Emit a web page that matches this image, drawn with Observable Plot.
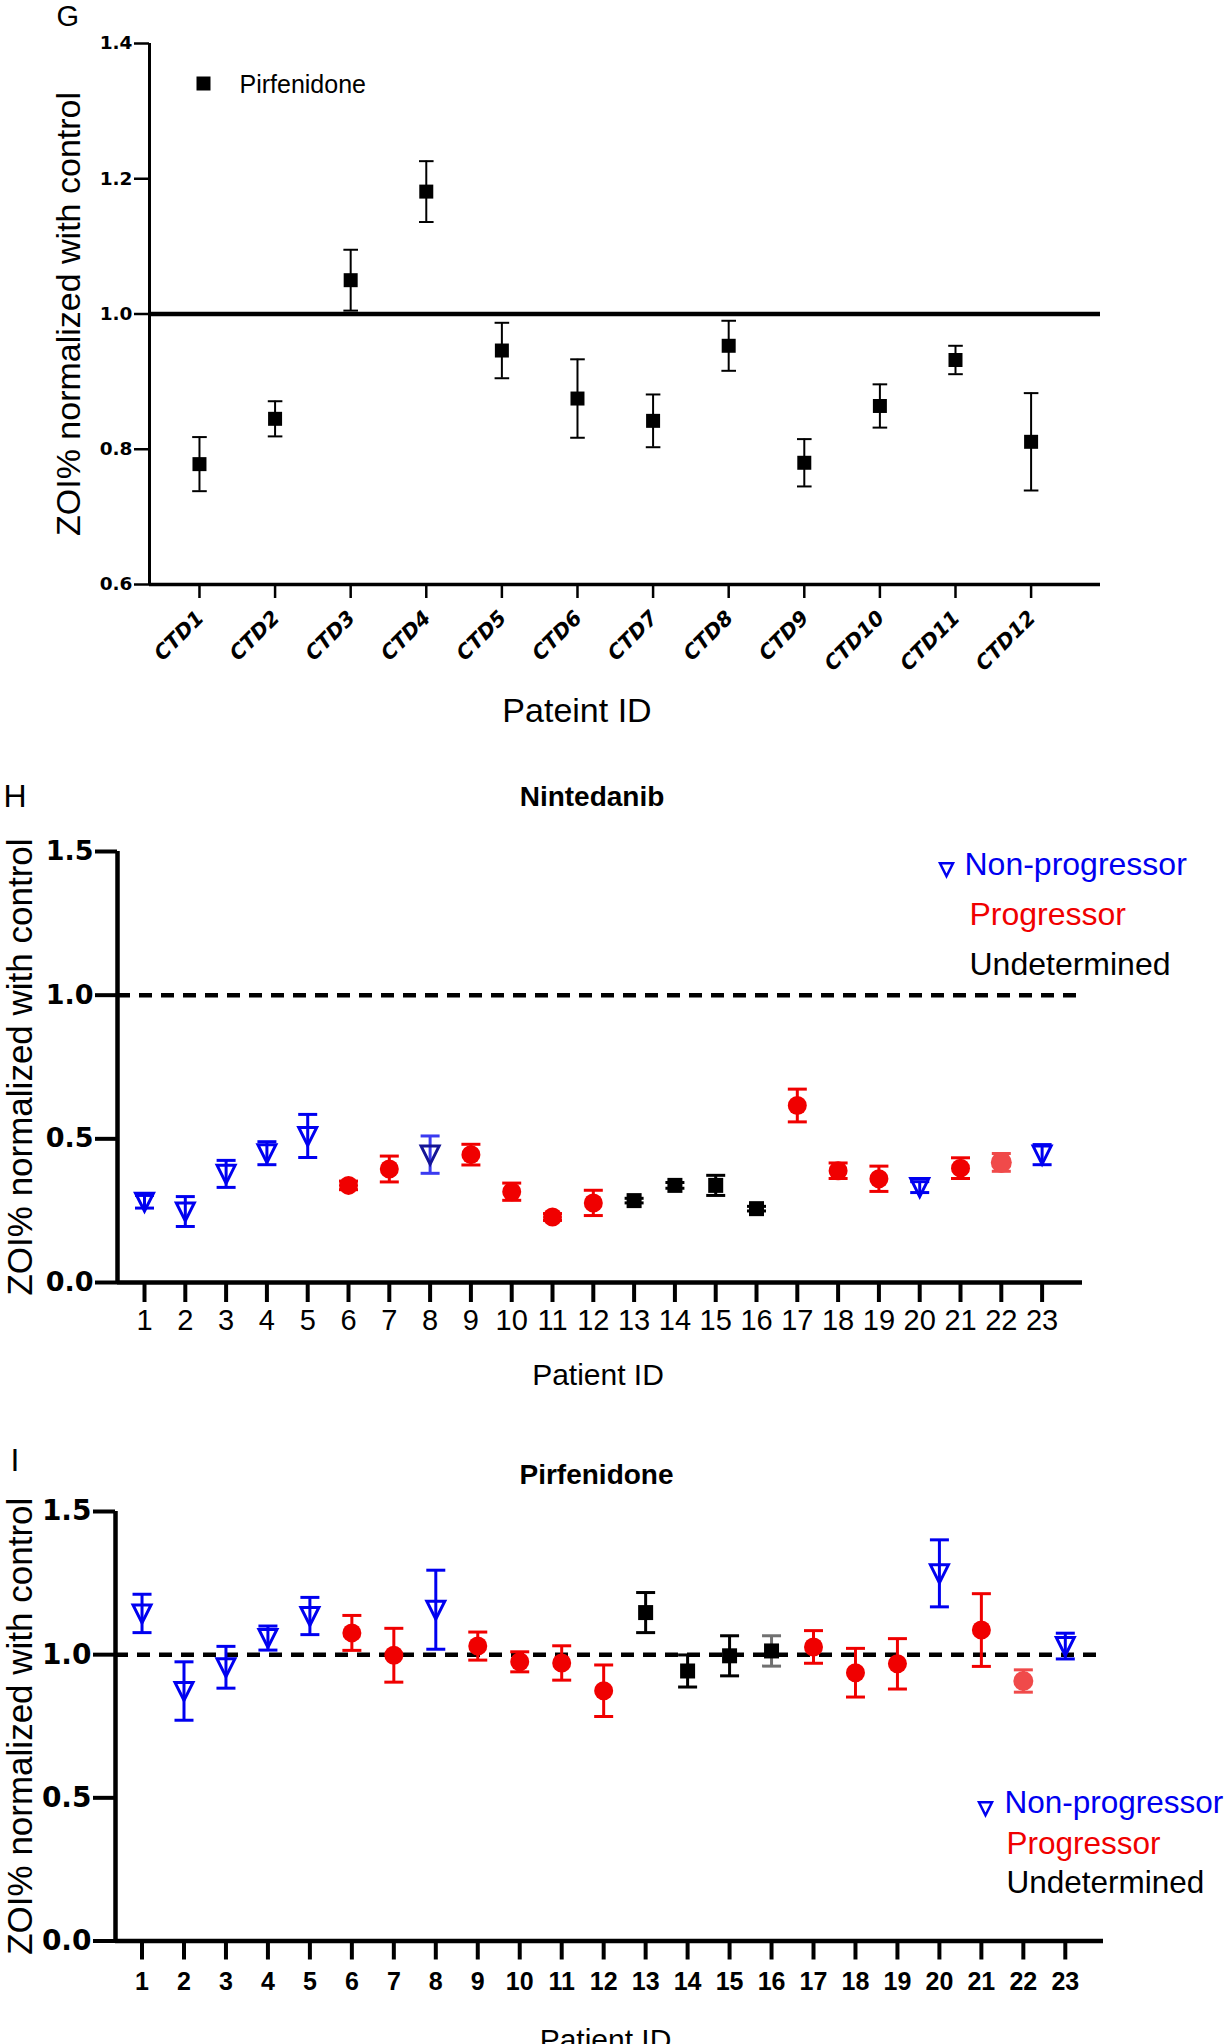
<!DOCTYPE html>
<html>
<head>
<meta charset="utf-8">
<script src="https://cdn.jsdelivr.net/npm/d3@7"></script>
<script src="https://cdn.jsdelivr.net/npm/@observablehq/plot@0.6"></script>
<style>
  body { margin: 0; background: #fff; }
  #wrap { position: relative; width: 1231px; height: 2044px; overflow: hidden; background: #fff; }
  #wrap svg { display: block; position: absolute; left: 0; overflow: visible; }
</style>
</head>
<body>
<div id="wrap"></div>
<script>
// ---------- Panel G data ----------
const gLabels = ["CTD1","CTD2","CTD3","CTD4","CTD5","CTD6","CTD7","CTD8","CTD9","CTD10","CTD11","CTD12"];
const gIndex = [1,2,3,4,5,6,7,8,9,10,11,12];
const gMean = [0.778,0.845,1.050,1.181,0.946,0.875,0.842,0.953,0.780,0.864,0.932,0.811];
const gErr  = [0.040,0.026,0.045,0.045,0.041,0.058,0.039,0.037,0.035,0.032,0.021,0.072];
const gTicks = [0.6,0.8,1.0,1.2,1.4];

// ---------- Panels H and I data ----------
const patientIds = [1,2,3,4,5,6,7,8,9,10,11,12,13,14,15,16,17,18,19,20,21,22,23];
const statusCodes = ["N","N","N","N","N","P","P","N","P","P","P","P","U","U","U","U","P","P","P","N","P","P","N"];
const hMean = [0.281,0.247,0.378,0.450,0.510,0.338,0.395,0.445,0.445,0.316,0.228,0.277,0.285,0.338,0.338,0.257,0.616,0.389,0.361,0.332,0.398,0.418,0.445];
const hErr  = [0.022,0.052,0.047,0.040,0.075,0.015,0.045,0.065,0.036,0.030,0.012,0.044,0.008,0.010,0.035,0.008,0.057,0.027,0.044,0.019,0.036,0.031,0.035];
const iMean = [1.144,0.873,0.956,1.058,1.135,1.076,0.998,1.157,1.030,0.975,0.971,0.874,1.147,0.943,0.996,1.013,1.027,0.937,0.968,1.284,1.086,0.908,1.030];
const iErr  = [0.067,0.102,0.073,0.042,0.065,0.061,0.094,0.138,0.049,0.035,0.060,0.090,0.070,0.056,0.070,0.053,0.057,0.085,0.088,0.117,0.127,0.039,0.045];
const hiTicks = [0.0,0.5,1.0,1.5];
const legendLabels = ["Non-progressor","Progressor","Undetermined"];

// ---------- styling ----------
const FONT = "'Liberation Sans', Arial, Helvetica, sans-serif";
const TICKFONT = "'DejaVu Sans', Verdana, sans-serif";
const BLUE = "#0000f0", RED = "#f00000", BLACK = "#000000";
const statusColor = {N: BLUE, P: RED, U: BLACK};
const legendColors = [BLUE, RED, BLACK];
// small per-point shade differences seen in the figure (style only)
const shade = {
  H: {8: {mark: "#141496", bar: "#3a3af0"}, 22: {mark: "#f04a4a", bar: "#f04a4a", r: 10.5}},
  I: {16: {mark: BLACK, bar: "#707070"}, 22: {mark: "#f04a4a", bar: "#f04a4a", r: 10}}
};

const capSym = {draw(ctx, size) { const r = Math.sqrt(size / Math.PI); ctx.moveTo(-r, 0); ctx.lineTo(r, 0); }};
const sqSym  = {draw(ctx, size) { const r = Math.sqrt(size / Math.PI); ctx.rect(-r, -r, 2 * r, 2 * r); }};
const triSym = {draw(ctx, size) { const r = Math.sqrt(size / Math.PI); ctx.moveTo(-r, -0.95 * r); ctx.lineTo(r, -0.95 * r); ctx.lineTo(0, 1.05 * r); ctx.closePath(); }};

const wrap = document.getElementById("wrap");
function place(svg, top) { svg.style.top = top + "px"; wrap.appendChild(svg); }
function label(str, opts) {
  return Plot.text([str], {text: d => d, textAnchor: "middle", lineAnchor: "middle", ...opts});
}

// ---------- Panel G ----------
const gRows = gIndex.map((i, k) => ({i, mean: gMean[k], err: gErr[k]}));
const gX = [0.339, 12.918];
const G = Plot.plot({
  width: 1231, height: 760,
  marginLeft: 149, marginRight: 131, marginTop: 43, marginBottom: 176,
  x: {type: "linear", domain: gX, label: null},
  y: {domain: [0.6, 1.4], label: null},
  style: {fontFamily: FONT, background: "white", overflow: "visible", color: "black"},
  marks: [
    Plot.ruleY([1], {strokeWidth: 4.5, stroke: "black"}),
    Plot.ruleX([gX[0]], {strokeWidth: 3, stroke: "black"}),
    Plot.ruleY([0.6], {strokeWidth: 3.5, stroke: "black"}),
    Plot.axisY({ticks: gTicks, tickFormat: d3.format(".1f"), tickSize: 15, tickPadding: 2, strokeWidth: 2.5, fontSize: 18.5, fontWeight: "bold", fontFamily: TICKFONT, label: null}),
    Plot.axisX({ticks: gIndex, tickSize: 14, strokeWidth: 2.5, fill: "none", label: null}),
    Plot.axisX({ticks: gIndex, tickFormat: i => gLabels[i - 1], tickSize: 0, tickPadding: 30, dx: 1, tickRotate: -45, fontSize: 20.5, fontWeight: "bold", fontStyle: "oblique", fontFamily: TICKFONT, label: null}),
    Plot.ruleX(gRows, {x: "i", y1: d => d.mean - d.err, y2: d => d.mean + d.err, strokeWidth: 2, stroke: "black"}),
    Plot.dot(gRows, {x: "i", y: d => d.mean + d.err, symbol: capSym, r: 7.3, stroke: "black", fill: "none", strokeWidth: 2}),
    Plot.dot(gRows, {x: "i", y: d => d.mean - d.err, symbol: capSym, r: 7.3, stroke: "black", fill: "none", strokeWidth: 2}),
    Plot.dot(gRows, {x: "i", y: "mean", symbol: sqSym, r: 7, fill: "black"}),
    label("G", {frameAnchor: "top-left", textAnchor: "start", dx: -93, dy: -27, fontSize: 29}),
    Plot.dot([0], {frameAnchor: "top-left", dx: 54, dy: 40, symbol: sqSym, r: 7, fill: "black"}),
    label("Pirfenidone", {frameAnchor: "top-left", textAnchor: "start", dx: 90, dy: 41, fontSize: 25}),
    label("ZOI% normalized with control", {frameAnchor: "left", rotate: -90, dx: -80, fontSize: 34}),
    label("Pateint ID", {frameAnchor: "bottom", dx: -48, dy: 127, fontSize: 34})
  ]
});
place(G, 0);

// ---------- helper for H and I ----------
function groupMarks(rows, panel) {
  const lo = d => d.mean - d.err, hi = d => d.mean + d.err;
  const over = shade[panel];
  const barC = d => (over[d.id] ? over[d.id].bar : statusColor[d.status]);
  const markC = d => (over[d.id] ? over[d.id].mark : statusColor[d.status]);
  const circR = d => (over[d.id] && over[d.id].r ? over[d.id].r : 9.5);
  return [
    Plot.ruleX(rows, {x: "id", y1: lo, y2: hi, stroke: barC, strokeWidth: 3}),
    Plot.dot(rows, {x: "id", y: hi, symbol: capSym, r: 9.5, stroke: barC, fill: "none", strokeWidth: 3}),
    Plot.dot(rows, {x: "id", y: lo, symbol: capSym, r: 9.5, stroke: barC, fill: "none", strokeWidth: 3}),
    Plot.dot(rows, {filter: d => d.status === "N", x: "id", y: "mean", symbol: triSym, r: 9, stroke: markC, fill: "none", strokeWidth: 3}),
    Plot.dot(rows, {filter: d => d.status === "P", x: "id", y: "mean", r: circR, fill: markC, stroke: "none"}),
    Plot.dot(rows, {filter: d => d.status === "U", x: "id", y: "mean", symbol: sqSym, r: 7.5, fill: markC, stroke: "none"})
  ];
}
function legendMarks(tri, texts, fontSize) {
  return [
    Plot.dot([0], {frameAnchor: "top-left", dx: tri[0], dy: tri[1], symbol: triSym, r: 6.5, stroke: BLUE, fill: "none", strokeWidth: 2.5}),
    ...legendLabels.map((t, k) => label(t, {frameAnchor: "top-left", textAnchor: "start", dx: texts[k][0], dy: texts[k][1], fill: legendColors[k], fontSize}))
  ];
}

// ---------- Panel H ----------
const hRows = patientIds.map((id, k) => ({id, status: statusCodes[k], mean: hMean[k], err: hErr[k]}));
const hX = [0.338, 23.99];
const H = Plot.plot({
  width: 1231, height: 660,
  marginLeft: 117, marginRight: 149, marginTop: 91, marginBottom: 138,
  x: {type: "linear", domain: hX, label: null},
  y: {domain: [0, 1.5], label: null},
  color: {type: "identity"},
  r: {type: "identity"},
  style: {fontFamily: FONT, background: "white", overflow: "visible", color: "black"},
  marks: [
    Plot.ruleY([1], {strokeWidth: 4.5, stroke: "black", strokeDasharray: "13,9"}),
    Plot.ruleX([hX[0]], {strokeWidth: 4.5, stroke: "black"}),
    Plot.ruleY([0], {strokeWidth: 4.5, stroke: "black"}),
    Plot.axisY({ticks: hiTicks, tickFormat: d3.format(".1f"), tickSize: 22, tickPadding: 2, strokeWidth: 4, fontSize: 27, fontWeight: "bold", fontFamily: TICKFONT, label: null}),
    Plot.axisX({ticks: patientIds, tickSize: 20, tickPadding: 7, strokeWidth: 4, fontSize: 29, label: null}),
    ...groupMarks(hRows, "H"),
    label("H", {frameAnchor: "top-left", textAnchor: "start", dx: -114, dy: -55, fontSize: 32}),
    label("Nintedanib", {frameAnchor: "top", dx: -8, dy: -54, fontSize: 28, fontWeight: "bold"}),
    label("ZOI% normalized with control", {frameAnchor: "left", rotate: -90, dx: -97, fontSize: 35}),
    label("Patient ID", {frameAnchor: "bottom", dx: -2, dy: 93, fontSize: 30}),
    ...legendMarks([829, 18], [[847, 13], [852, 63], [852, 113]], 32)
  ]
});
place(H, 760);

// ---------- Panel I ----------
const iRows = patientIds.map((id, k) => ({id, status: statusCodes[k], mean: iMean[k], err: iErr[k]}));
const iX = [0.368, 23.91];
const I = Plot.plot({
  width: 1231, height: 624,
  marginLeft: 115, marginRight: 128, marginTop: 91, marginBottom: 103.5,
  x: {type: "linear", domain: iX, label: null},
  y: {domain: [0, 1.5], label: null},
  color: {type: "identity"},
  r: {type: "identity"},
  style: {fontFamily: FONT, background: "white", overflow: "visible", color: "black"},
  marks: [
    Plot.ruleY([1], {strokeWidth: 4.5, stroke: "black", strokeDasharray: "13,9"}),
    Plot.ruleX([iX[0]], {strokeWidth: 4.5, stroke: "black"}),
    Plot.ruleY([0], {strokeWidth: 4.5, stroke: "black"}),
    Plot.axisY({ticks: hiTicks, tickFormat: d3.format(".1f"), tickSize: 22, tickPadding: 2, strokeWidth: 4, fontSize: 28, fontWeight: "bold", fontFamily: TICKFONT, label: null}),
    Plot.axisX({ticks: patientIds, tickSize: 19, tickPadding: 12, strokeWidth: 4, fontSize: 25, fontWeight: "bold", label: null}),
    ...groupMarks(iRows, "I"),
    label("I", {frameAnchor: "top-left", textAnchor: "start", dx: -105, dy: -51, fontSize: 32}),
    label("Pirfenidone", {frameAnchor: "top", dx: -13, dy: -36, fontSize: 28, fontWeight: "bold"}),
    label("ZOI% normalized with control", {frameAnchor: "left", rotate: -90, dx: -95, fontSize: 35}),
    label("Patient ID", {frameAnchor: "bottom", dx: -4, dy: 99, fontSize: 30}),
    ...legendMarks([870, 297], [[889, 291], [891, 332], [891, 371]], 31.5)
  ]
});
place(I, 1420);
</script>
</body>
</html>
